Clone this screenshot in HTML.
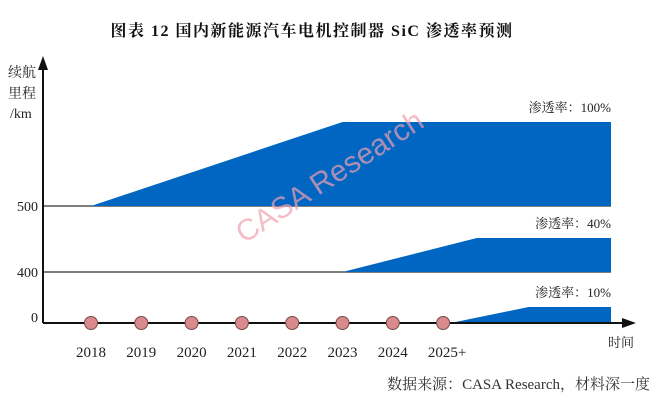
<!DOCTYPE html>
<html><head><meta charset="utf-8"><style>
body{margin:0;background:#fff;}
svg{display:block;font-family:"Liberation Serif","Noto Serif CJK SC",serif;}
</style></head><body>
<svg id="c" width="666" height="404" viewBox="0 0 666 404">
<text x="312" y="36" text-anchor="middle" font-size="16" font-weight="bold" letter-spacing="1.5" fill="#111">图表 12 国内新能源汽车电机控制器 SiC 渗透率预测</text>
<g font-size="14" fill="#222">
<text x="8" y="77">续航</text><text x="8" y="98">里程</text><text x="10" y="118">/km</text></g>
<g id="bands"></g>
<line x1="43" y1="323" x2="43" y2="66" stroke="#111" stroke-width="2"/>
<polygon points="43,56 38,70 48,70" fill="#111"/>
<line x1="43" y1="323" x2="624" y2="323" stroke="#111" stroke-width="2"/>
<polygon points="636,323 622,318 622,328" fill="#111"/>
<text x="608" y="347" font-size="13" fill="#222">时间</text>
<g id="dots"></g>
<text x="335" y="185" text-anchor="middle" font-family="Liberation Sans,sans-serif" font-size="30" fill="#f0a0b0" opacity="0.7" transform="rotate(-33 335 185)">CASA Research</text>
<text x="650" y="389" text-anchor="end" font-size="15" fill="#333">数据来源：CASA Research，材料深一度</text>
</svg>
<script>
const years=["2018","2019","2020","2021","2022","2023","2024","2025+"];
const bandLabels=["500","400","0"];
const bandRates=["渗透率：100%","渗透率：40%","渗透率：10%"];
const bandBase=[206,272,323];
const bandStart=[0,5,7.15];
const bandRiseEnd=[5,7.67,8.7];
const bandHeight=[84,34,16];
const xEnd=611;
const NS="http://www.w3.org/2000/svg";
function x(i){return 91+i*50.3;}
const bands=document.getElementById('bands');
const dots=document.getElementById('dots');
function mk(t,a,p){const e=document.createElementNS(NS,t);for(const k in a)e.setAttribute(k,a[k]);p.appendChild(e);return e;}
bandBase.forEach((b,k)=>{
 if(b!==323){const l=mk('line',{x1:43,y1:b,x2:xEnd,y2:b,stroke:'#333','stroke-width':1.2},bands);
 
 }
 const top=b-bandHeight[k];
 const p=mk('polygon',{points:`${x(bandStart[k])},${b} ${x(bandRiseEnd[k])},${top} ${xEnd},${top} ${xEnd},${b}`,fill:'#0166c1'},bands);
 
 
 const t=mk('text',{x:xEnd,y:top-10,'text-anchor':'end','font-size':13,fill:'#222'},bands);t.textContent=bandRates[k];
 
 
 const y=mk('text',{x:38,y:(b===323?b-1:b+5),'text-anchor':'end','font-size':14,fill:'#222'},bands);y.textContent=bandLabels[k];
 
 
});
years.forEach((yr,i)=>{
 const c=mk('circle',{cx:x(i),cy:323,r:6.5,fill:'#d88a8c',stroke:'#7a4a4a','stroke-width':1},dots);
 
 
 const t=mk('text',{x:x(i)+(i===7?4:0),y:357,'text-anchor':'middle','font-size':15,fill:'#222'},dots);t.textContent=yr;
 
 
});
</script>
</body></html>
